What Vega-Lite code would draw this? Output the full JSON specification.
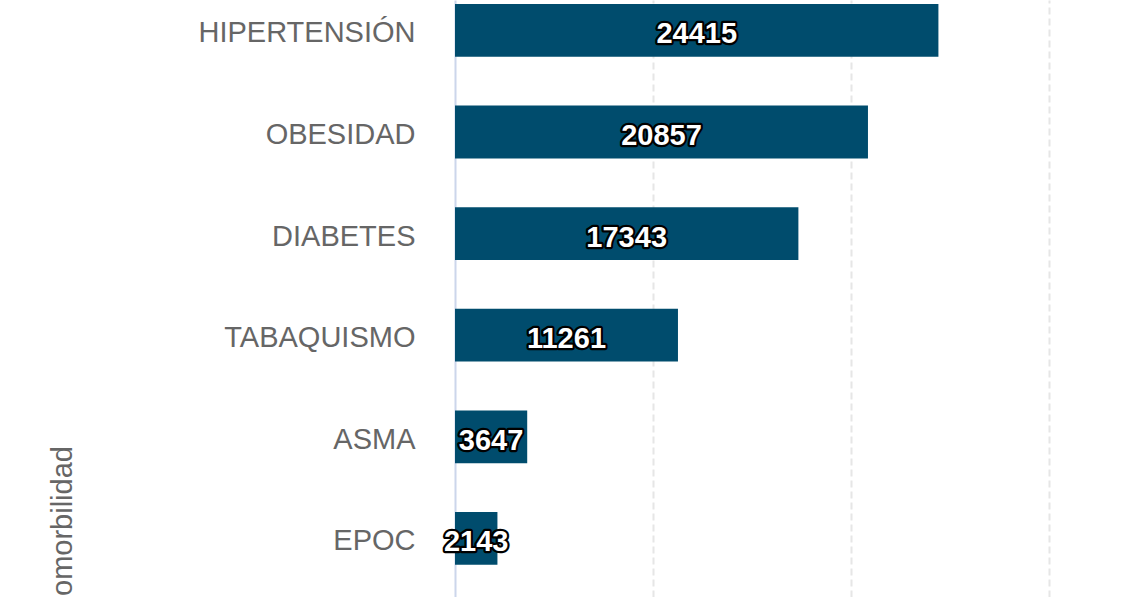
{
  "$schema": "https://vega.github.io/schema/vega-lite/v6.json",
  "autosize": {"type": "none"},
  "padding": {"left": 455, "top": 0, "right": 0, "bottom": 0},
  "width": 681,
  "height": 597,
  "background": "#ffffff",
  "config": {
    "view": {"stroke": null},
    "font": "Liberation Sans"
  },
  "data": {
    "values": [
      {"comorbilidad": "HIPERTENSIÓN", "casos": 24415},
      {"comorbilidad": "OBESIDAD", "casos": 20857},
      {"comorbilidad": "DIABETES", "casos": 17343},
      {"comorbilidad": "TABAQUISMO", "casos": 11261},
      {"comorbilidad": "ASMA", "casos": 3647},
      {"comorbilidad": "EPOC", "casos": 2143}
    ]
  },
  "encoding": {
    "y": {
      "field": "comorbilidad",
      "type": "nominal",
      "sort": ["HIPERTENSIÓN", "OBESIDAD", "DIABETES", "TABAQUISMO", "ASMA", "EPOC"],
      "scale": {"paddingInner": 0.48, "paddingOuter": 0.178, "align": 0.11},
      "axis": {
        "title": "Comorbilidad",
        "titleFont": "Liberation Sans",
        "titleFontSize": 29,
        "titleFontWeight": "normal",
        "titleColor": "#666666",
        "titleAngle": 270,
        "titleX": -384,
        "titleY": 531,
        "titleAlign": "center",
        "titleBaseline": "alphabetic",
        "labelFont": "Liberation Sans",
        "labelFontSize": 29,
        "labelColor": "#666666",
        "labelPadding": 40,
        "labelLimit": 0,
        "labelOffset": 3,
        "labelBaseline": "middle",
        "ticks": false,
        "domain": true,
        "domainColor": "#ccd6eb",
        "domainWidth": 2,
        "grid": false
      }
    }
  },
  "layer": [
    {
      "mark": {"type": "bar", "color": "#004c6d"},
      "encoding": {
        "x": {
          "field": "casos",
          "type": "quantitative",
          "scale": {"domain": [0, 34394], "nice": false, "zero": true},
          "axis": {
            "title": null,
            "labels": false,
            "ticks": false,
            "domain": false,
            "grid": true,
            "values": [10000, 20000, 30000],
            "gridColor": "#e6e6e6",
            "gridWidth": 2,
            "gridDash": [7, 4]
          }
        }
      }
    },
    {
      "mark": {"type": "text", "fontSize": 29, "fontWeight": "bold", "font": "Liberation Sans", "fill": "#000000", "stroke": "#000000", "strokeWidth": 4.5, "strokeJoin": "round", "align": "center", "baseline": "middle", "dy": 4},
      "encoding": {
        "x": {"field": "casos", "type": "quantitative", "scale": {"domain": [0, 68788], "nice": false, "zero": true}, "axis": null},
        "text": {"field": "casos", "type": "quantitative", "format": "d"}
      }
    },
    {
      "mark": {"type": "text", "fontSize": 29, "fontWeight": "bold", "font": "Liberation Sans", "fill": "#ffffff", "align": "center", "baseline": "middle", "dy": 4},
      "encoding": {
        "x": {"field": "casos", "type": "quantitative", "scale": {"domain": [0, 68788], "nice": false, "zero": true}, "axis": null},
        "text": {"field": "casos", "type": "quantitative", "format": "d"}
      }
    }
  ],
  "resolve": {"scale": {"x": "independent"}, "axis": {"x": "independent"}}
}
